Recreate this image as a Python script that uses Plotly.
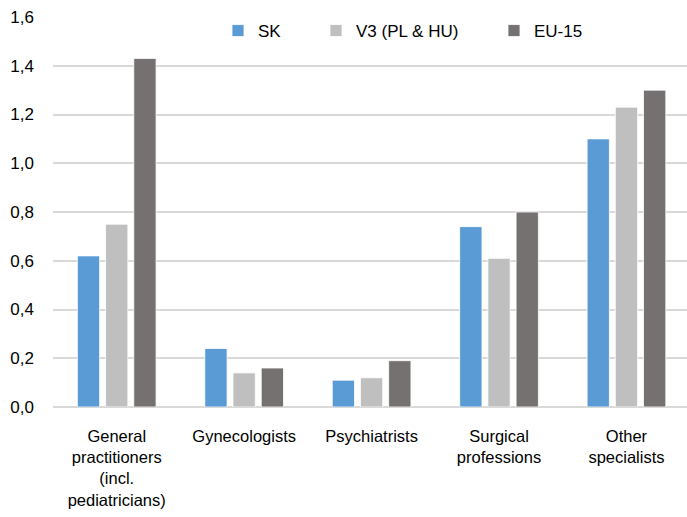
import plotly.graph_objects as go

categories = [
    "General<br>practitioners<br>(incl.<br>pediatricians)",
    "Gynecologists",
    "Psychiatrists",
    "Surgical<br>professions",
    "Other<br>specialists",
]
sk = [0.62, 0.24, 0.11, 0.74, 1.10]
v3 = [0.75, 0.14, 0.12, 0.61, 1.23]
eu15 = [1.43, 0.16, 0.19, 0.80, 1.30]

series = [
    ("SK", sk, "#5B9BD5", "legend"),
    ("V3 (PL & HU)", v3, "#BFBFBF", "legend2"),
    ("EU-15", eu15, "#767171", "legend3"),
]

label_font = dict(family="Liberation Sans, Arial", size=16.5, color="#000000")
legend_font = dict(family="Liberation Sans, Arial", size=17, color="#000000")
tick_font = dict(family="Liberation Sans, Arial", size=17, color="#000000")

# plot area in pixels: left 53, right 687, top 17, bottom 407
PX_L, PX_W, PX_B, PX_H = 53, 634, 407, 390

fig = go.Figure()
for name, vals, color, leg in series:
    fig.add_trace(go.Bar(
        x=categories, y=vals, name=name,
        marker=dict(color=color, line=dict(color="#FFFFFF", width=0.8)),
        legend=leg,
    ))

legend_common = dict(
    orientation="h", xref="paper", yref="paper",
    yanchor="middle", xanchor="left", y=(PX_B - 31) / PX_H,
    bgcolor="rgba(0,0,0,0)", font=legend_font, itemwidth=30,
    borderwidth=0,
)

fig.update_layout(
    width=687, height=517,
    margin=dict(l=PX_L, r=0, t=17, b=110),
    paper_bgcolor="#FFFFFF", plot_bgcolor="#FFFFFF",
    barmode="group", bargap=0.336, bargroupgap=0.21,
    separators=", ",
    showlegend=True,
    legend=dict(legend_common, x=(218 - PX_L) / PX_W),
    legend2=dict(legend_common, x=(316 - PX_L) / PX_W),
    legend3=dict(legend_common, x=(494 - PX_L) / PX_W),
    xaxis=dict(
        range=[-0.5, 4.475], showgrid=False, showline=False, zeroline=False,
        ticks="", tickfont=label_font, fixedrange=True, ticklabelstandoff=17,
    ),
    yaxis=dict(
        range=[0, 1.6], dtick=0.2, tickformat=".1f",
        showgrid=True, gridcolor="#D9D9D9", gridwidth=1.5,
        zeroline=True, zerolinecolor="#D9D9D9", zerolinewidth=1.5,
        showline=False, ticks="", tickfont=tick_font, ticklabelstandoff=18,
    ),
)

fig.write_html("out.html")
